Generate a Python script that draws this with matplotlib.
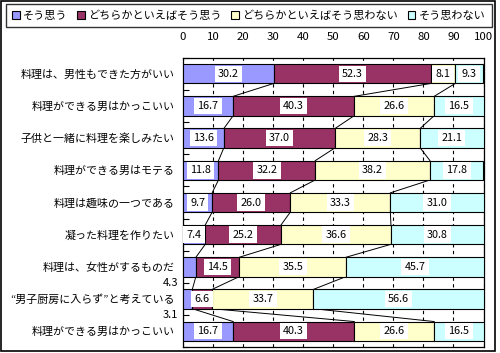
import matplotlib
matplotlib.use("Agg")
import matplotlib.pyplot as plt
from matplotlib.patches import Rectangle, Patch
import numpy as np

plt.rcParams['font.family'] = ['Noto Sans CJK JP', 'DejaVu Sans']

categories = [
    "料理は、男性もできた方がいい",
    "料理ができる男はかっこいい",
    "子供と一緒に料理を楽しみたい",
    "料理ができる男はモテる",
    "料理は趣味の一つである",
    "凝った料理を作りたい",
    "料理は、女性がするものだ",
    "“男子厨房に入らず”と考えている",
    "料理ができる男はかっこいい",
]
series_names = ["そう思う", "どちらかといえばそう思う", "どちらかといえばそう思わない", "そう思わない"]
sou_omou = [30.2, 16.7, 13.6, 11.8, 9.7, 7.4, 4.3, 3.1, 16.7]
dochira_omou = [52.3, 40.3, 37.0, 32.2, 26.0, 25.2, 14.5, 6.6, 40.3]
dochira_omowanai = [8.1, 26.6, 28.3, 38.2, 33.3, 36.6, 35.5, 33.7, 26.6]
sou_omowanai = [9.3, 16.5, 21.1, 17.8, 31.0, 30.8, 45.7, 56.6, 16.5]
xticks = [0, 10, 20, 30, 40, 50, 60, 70, 80, 90, 100]

colors = ["#9999FF", "#993366", "#FFFFCC", "#CCFFFF"]

W, H = 500, 353
fig = plt.figure(figsize=(W / 100, H / 100), dpi=100)
ax = fig.add_axes([183 / W, 1 - 347.3 / H, (483.5 - 183) / W, (347.3 - 57.7) / H])

data = np.array([sou_omou, dochira_omou, dochira_omowanai, sou_omowanai])
n = len(categories)
y = np.arange(n)
bh = 0.6
left = np.zeros(n)
cums = []
for i in range(4):
    ax.barh(y, data[i], left=left, height=bh, color=colors[i], edgecolor='black',
            linewidth=0.8, zorder=3)
    for k in range(n):
        v = data[i][k]
        if v < 5:
            ax.text(-1.5, k + 0.5, f"{v:.1f}", ha='right', va='center', fontsize=8,
                    clip_on=False, zorder=5)
        else:
            ax.text(left[k] + v / 2, k, f"{v:.1f}", ha='center', va='center', fontsize=7.8,
                    zorder=5,
                    bbox=dict(boxstyle='square,pad=0.3', fc='white', ec='none'))
    left = left + data[i]
    cums.append(left.copy())

# series lines
for j in range(3):
    c = cums[j]
    for k in range(n - 1):
        ax.plot([c[k], c[k + 1]], [k + bh / 2, k + 1 - bh / 2], color='black', lw=0.7, zorder=2)

ax.set_xlim(0, 100)
ax.set_ylim(n - 0.5, -0.5)
ax.xaxis.tick_top()
ax.set_xticks(xticks)
ax.set_xticklabels([str(t) for t in xticks], fontsize=8.2)
ax.tick_params(axis='x', length=0, pad=11)
ax.set_yticks(y)
ax.set_yticklabels(categories, fontsize=7.9)
ax.tick_params(axis='y', length=0, pad=6)
ax.set_yticks(np.arange(n + 1) - 0.5, minor=True)
ax.tick_params(axis='y', which='minor', direction='in', length=4, width=0.8, left=True)
ax.grid(axis='x', color='black', linestyle=(0, (3, 3)), linewidth=0.8, zorder=1)
for s in ax.spines.values():
    s.set_linewidth(0.9)

# legend
handles = [Patch(facecolor=c, edgecolor='black', linewidth=0.8) for c in colors]
leg = fig.legend(handles, series_names, loc='upper left', ncol=4,
                 bbox_to_anchor=(6 / W, 1 - 4 / H), fontsize=8.0,
                 handlelength=0.7, handleheight=0.7, handletextpad=0.3,
                 columnspacing=0.85, borderpad=0.55, fancybox=False, frameon=True,
                 borderaxespad=0)
leg.get_frame().set_edgecolor('black')
leg.get_frame().set_linewidth(1.0)

# outer border
fig.patches.append(Rectangle((0.5 / W, 1 - 350.5 / H), 494.5 / W, 350 / H, transform=fig.transFigure,
                             fill=False, edgecolor='black', linewidth=1.2))

fig.savefig("out.png", dpi=100)
